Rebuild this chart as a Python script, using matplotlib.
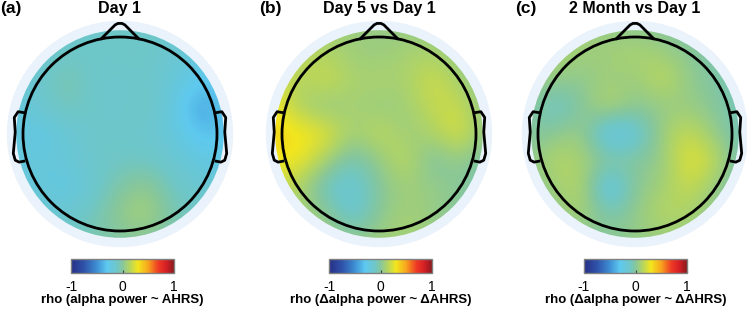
import numpy as np
import matplotlib
matplotlib.use("Agg")
import matplotlib.pyplot as plt
from matplotlib.colors import LinearSegmentedColormap
from matplotlib.patches import Circle
from matplotlib.cm import ScalarMappable
from matplotlib.colors import Normalize

plt.rcParams['font.family'] = ['Liberation Sans', 'DejaVu Sans']

# --- данные: rho на грубой сетке 9x9 (сверху вниз, слева направо) ---
titles = ["Day 1", "Day 5 vs Day 1", "2 Month vs Day 1"]
letters = ["(a)", "(b)", "(c)"]
cb_labels = ["rho (alpha power ~ AHRS)",
             "rho (\u0394alpha power ~ \u0394AHRS)",
             "rho (\u0394alpha power ~ \u0394AHRS)"]
cb_ticks = [-1, 0, 1]

rho_day1 = [
    [-0.15, -0.15, -0.15, -0.12, -0.12, -0.12, -0.15, -0.18, -0.20],
    [-0.18, -0.15, -0.10, -0.12, -0.10, -0.10, -0.15, -0.20, -0.22],
    [-0.20, -0.12, -0.04, -0.12, -0.14, -0.12, -0.18, -0.30, -0.28],
    [-0.20, -0.15, -0.06, -0.12, -0.14, -0.08, -0.22, -0.45, -0.30],
    [-0.22, -0.25, -0.18, -0.12, -0.12, -0.14, -0.20, -0.35, -0.30],
    [-0.20, -0.20, -0.18, -0.12, -0.10, -0.10, -0.15, -0.22, -0.25],
    [-0.18, -0.20, -0.25, -0.14, -0.02, 0.05, -0.10, -0.15, -0.18],
    [-0.15, -0.15, -0.15, -0.08, 0.05, 0.10, -0.05, -0.10, -0.12],
    [-0.10, -0.10, -0.08, -0.05, -0.02, 0.00, -0.05, -0.08, -0.10],
]
rho_day5 = [
    [0.15, 0.12, 0.10, 0.06, 0.05, 0.05, 0.03, 0.00, -0.02],
    [0.20, 0.15, 0.12, 0.08, 0.06, 0.10, 0.12, 0.03, -0.02],
    [0.25, 0.12, 0.22, 0.10, 0.12, 0.10, 0.22, 0.10, 0.00],
    [0.30, 0.12, 0.02, 0.10, 0.05, 0.08, 0.18, 0.20, 0.02],
    [0.38, 0.32, 0.28, 0.08, 0.18, 0.06, 0.12, 0.25, 0.03],
    [0.30, 0.30, 0.10, -0.08, 0.05, 0.18, -0.05, 0.05, -0.05],
    [0.20, 0.12, -0.12, -0.18, 0.00, 0.08, 0.05, 0.02, -0.08],
    [0.15, 0.10, 0.05, -0.18, 0.02, 0.10, 0.05, 0.00, -0.08],
    [0.12, 0.10, 0.08, 0.05, 0.08, 0.10, 0.05, 0.00, -0.05],
]
rho_month2 = [
    [0.02, 0.08, 0.08, 0.04, 0.02, 0.00, -0.04, -0.08, -0.10],
    [0.08, 0.12, 0.08, 0.08, 0.12, 0.08, 0.02, -0.05, -0.10],
    [0.08, 0.05, 0.02, 0.08, 0.05, 0.18, 0.04, -0.02, -0.08],
    [0.02, -0.15, 0.00, 0.15, 0.02, 0.04, 0.06, 0.00, -0.08],
    [-0.02, 0.02, 0.08, -0.30, -0.20, 0.08, 0.20, 0.04, -0.08],
    [0.02, 0.15, 0.10, 0.02, 0.00, 0.04, 0.28, 0.18, -0.08],
    [0.00, 0.08, 0.15, -0.30, 0.02, 0.08, 0.20, 0.05, -0.08],
    [-0.04, 0.04, 0.12, -0.05, 0.04, 0.15, 0.12, 0.02, -0.06],
    [-0.08, -0.04, 0.00, 0.02, 0.04, 0.06, 0.04, -0.04, -0.08],
]
maps = [rho_day1, rho_day5, rho_month2]

# палитра (примерно как на рисунке)
cmap = LinearSegmentedColormap.from_list("topo", [
    (0.00, "#262f86"), (0.125, "#2e52a8"), (0.25, "#3e8fd4"),
    (0.35, "#5ec9ef"), (0.45, "#6fc6c6"), (0.50, "#86c79c"),
    (0.575, "#b8d65c"), (0.65, "#f2e61e"), (0.75, "#f7a51d"),
    (0.85, "#ee3a24"), (0.925, "#d51f26"), (1.00, "#8c1a1c")])
norm = Normalize(-1, 1)

W, H = 747, 310
fig = plt.figure(figsize=(W / 100, H / 100), dpi=100)

centers = [(120, 134), (379, 134), (635, 134)]
R = 97
L = 1.22
cbar_x = [71, 329, 584]

for k in range(3):
    cx, cy = centers[k]
    ax = fig.add_axes([(cx - L * R) / W, (H - cy - L * R) / H, 2 * L * R / W, 2 * L * R / H])
    ax.set_xlim(-L, L)
    ax.set_ylim(-L, L)
    ax.axis('off')

    ax.add_patch(Circle((0, 0), 1.16, color="#eaf3fb", zorder=0))
    grid = np.array(maps[k])
    n = grid.shape[0]
    half = 1.1 + 1.1 / (n - 1)
    im = ax.imshow(grid, cmap=cmap, norm=norm, interpolation='bicubic',
                   extent=[-half, half, -half, half], origin='upper', zorder=1)
    im.set_clip_path(Circle((0, 0), 1.07, transform=ax.transData))

    lw = 2.0
    ax.add_patch(Circle((0, 0), 1.0, fill=False, lw=lw, ec='black', zorder=3))
    # нос
    ax.plot([-0.19, -0.05, -0.02, 0.02, 0.05, 0.19],
            [0.985, 1.125, 1.14, 1.14, 1.125, 0.985], color='black', lw=lw,
            solid_joinstyle='round', zorder=3)
    # уши
    ex = [-0.99, -1.05, -1.09, -1.08, -1.10, -1.08, -1.04, -0.99]
    ey = [0.22, 0.23, 0.17, 0.02, -0.20, -0.27, -0.29, -0.28]
    ax.plot(ex, ey, color='black', lw=lw, solid_joinstyle='round', zorder=3)
    ax.plot([-v for v in ex], ey, color='black', lw=lw, solid_joinstyle='round', zorder=3)

    fig.text(cx / W, 1 - 9 / H, titles[k], ha='center', va='center',
             fontsize=11.5, fontweight='bold')
    fig.text((cx - 120) / W, 1 - 9 / H, letters[k], ha='left', va='center',
             fontsize=12.5, fontweight='bold')

    # цветовая шкала
    cax = fig.add_axes([cbar_x[k] / W, 37 / H, 103 / W, 14 / H])
    cb = fig.colorbar(ScalarMappable(norm=norm, cmap=cmap), cax=cax,
                      orientation='horizontal', ticks=cb_ticks)
    cb.outline.set_edgecolor('#808080')
    cb.outline.set_linewidth(1.0)
    cax.tick_params(direction='in', length=2, width=0.8, color='#404040',
                    labelsize=10, pad=5)
    cax.set_xticklabels(["-1", "0", "1"])
    fig.text((cbar_x[k] + 51.5) / W, 1 - 300 / H, cb_labels[k], ha='center',
             va='center', fontsize=9.5, fontweight='bold')

fig.savefig("out.png", dpi=100)
